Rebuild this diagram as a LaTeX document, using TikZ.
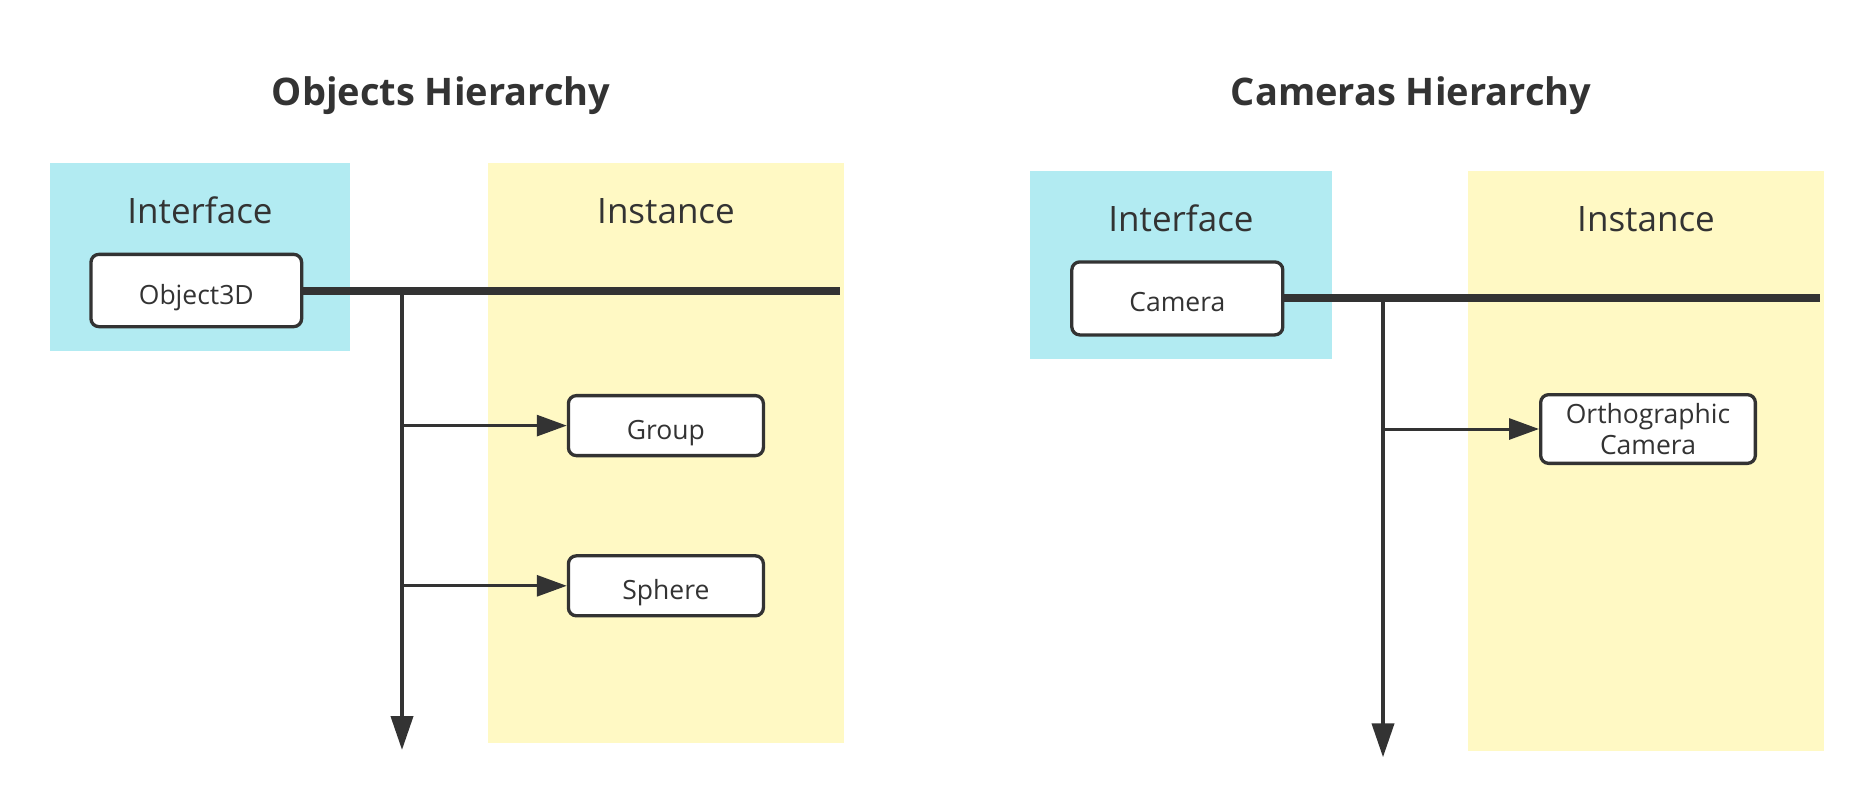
\documentclass[tikz,border=0pt]{standalone}
\usepackage{fontspec}
\setmainfont{Open Sans}
\usetikzlibrary{arrows.meta}
\definecolor{ink}{HTML}{333333}
\definecolor{ifblue}{HTML}{B2EBF2}
\definecolor{inyellow}{HTML}{FFF9C4}
\begin{document}
\begin{tikzpicture}[x=1pt,y=-1pt,
  title/.style={font=\fontsize{38}{42}\selectfont\bfseries, text=ink, anchor=base, inner sep=0pt},
  head/.style={font=\fontsize{35}{40}\selectfont, text=ink, anchor=base, inner sep=0pt},
  cls/.style={draw=ink, line width=3.3pt, fill=white, rounded corners=8pt,
    font=\fontsize{26.5}{31}\selectfont, text=ink, align=center, inner sep=0pt},
  onel/.style={text height=27pt, text depth=0pt},
  bus/.style={draw=ink, line width=8pt},
  trunk/.style={draw=ink, line width=4pt, -{Triangle[length=34pt,width=22pt]}},
  branch/.style={draw=ink, line width=3pt, -{Triangle[length=30pt,width=21pt]}},
]
\useasboundingbox (0,0) rectangle (1874,806);
\fill[white] (0,0) rectangle (1874,806);

% ---------- left panel ----------
\fill[ifblue] (50,162.7) rectangle (350,350.7);
\fill[inyellow] (488,162.7) rectangle (844,742.7);
\node[title] (tL) at (441,105) {Objects Hierarchy};
\node[head] (ifL) at (200,223.3) {Interface};
\node[head] (inL) at (666,223.3) {Instance};
\node[cls,onel,minimum width=210.7pt,minimum height=72.3pt] (obj) at (196.3,290.5) {Object3D};
\node[cls,onel,minimum width=195pt,minimum height=60pt] (grp) at (665.9,425.6) {Group};
\node[cls,onel,minimum width=195pt,minimum height=60pt] (sph) at (665.9,585.8) {Sphere};
\coordinate (busL) at (840,290.5);
\coordinate (jL) at (402,290.5);
\coordinate (endL) at (402,750);
\draw[bus] (obj.east) -- (busL);
\draw[trunk] (jL) -- (endL);
\draw[branch] (jL |- grp.west) -- (grp.west);
\draw[branch] (jL |- sph.west) -- (sph.west);

% ---------- right panel ----------
\fill[ifblue] (1030,170.7) rectangle (1332,358.5);
\fill[inyellow] (1467.7,170.7) rectangle (1824,750.7);
\node[title] (tR) at (1411,105) {Cameras Hierarchy};
\node[head] (ifR) at (1181,231) {Interface};
\node[head] (inR) at (1646,231) {Instance};
\node[cls,onel,minimum width=211pt,minimum height=73pt] (cam) at (1177.3,298.4) {Camera};
\node[cls,minimum width=214.7pt,minimum height=68.7pt] (ort) at (1648,429) {Orthographic\\Camera};
\coordinate (busR) at (1820,298.4);
\coordinate (jR) at (1383,298.4);
\coordinate (endR) at (1383,757.3);
\draw[bus] (cam.east) -- (busR);
\draw[trunk] (jR) -- (endR);
\draw[branch] (jR |- ort.west) -- (ort.west);
\end{tikzpicture}
\end{document}
